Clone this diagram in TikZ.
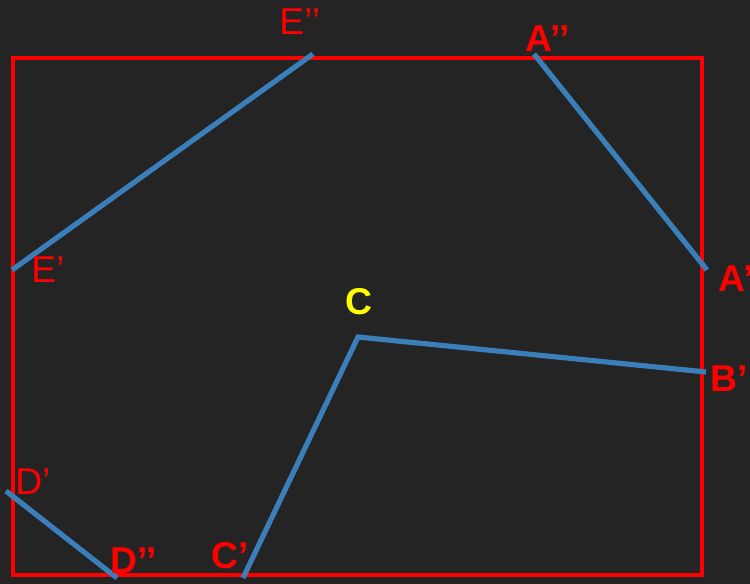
\documentclass[tikz,border=0pt]{standalone}
\usepackage{fontspec}
\setmainfont{Liberation Sans}
\definecolor{board}{RGB}{36,36,37}
\definecolor{seg}{RGB}{58,126,186}
\definecolor{lbl}{RGB}{255,0,0}
\definecolor{ylw}{RGB}{255,255,0}
\begin{document}
\begin{tikzpicture}[x=0.75pt,y=-0.75pt,
  frame/.style={draw=lbl,line width=2.4pt},
  segline/.style={draw=seg,line width=3.9pt},
  lab/.style={anchor=base west,inner sep=0pt,text=lbl,font=\fontsize{28}{30}\selectfont},
  blab/.style={lab,font=\fontsize{28}{30}\selectfont\bfseries},
  ylab/.style={blab,text=ylw}]
\fill[board] (0,0) rectangle (750,584);
\useasboundingbox (0,0) rectangle (750,584);
\draw[frame] (13,58) rectangle (702,575);
\coordinate (Ep) at (12,270);
\coordinate (Epp) at (313,54);
\coordinate (App) at (534,54);
\coordinate (Ap) at (707,270);
\coordinate (C) at (358,337);
\coordinate (Bp) at (706,372);
\coordinate (Cp) at (243,578);
\coordinate (Dp) at (6,491);
\coordinate (Dpp) at (117,578);
\draw[segline] (Ep) -- (Epp);
\draw[segline] (App) -- (Ap);
\draw[segline] (Bp) -- (C) -- (Cp);
\draw[segline] (Dp) -- (Dpp);
\node[lab] (lEpp) at (279,35) {E’’};
\node[blab] (lApp) at (525,52) {A’’};
\node[blab] (lAp) at (718,292) {A’};
\node[blab] (lBp) at (710,392) {B’};
\node[lab] (lEp) at (31,283) {E’};
\node[ylab] (lC) at (345,315) {C};
\node[lab] (lDp) at (15,494) {D’};
\node[blab] (lDpp) at (110,573) {D’’};
\node[blab] (lCp) at (211,568) {C’};
\end{tikzpicture}
\end{document}
